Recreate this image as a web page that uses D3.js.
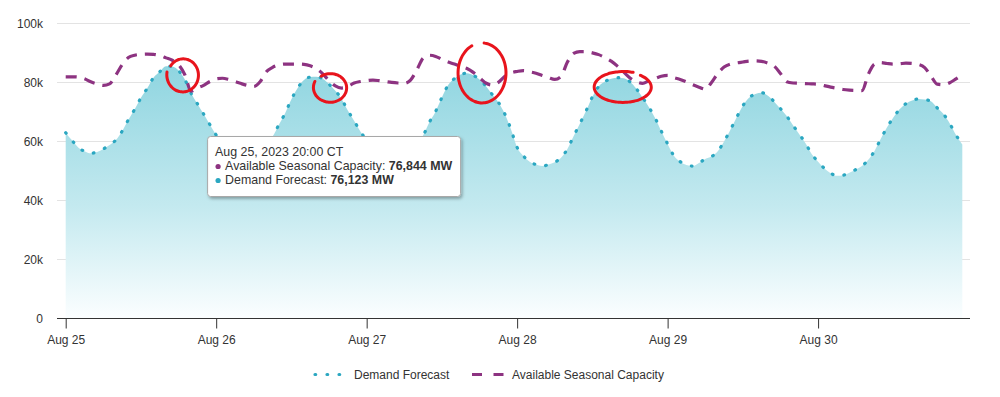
<!DOCTYPE html>
<html>
<head>
<meta charset="utf-8">
<title>Demand Forecast vs Available Seasonal Capacity</title>
<script src="https://cdnjs.cloudflare.com/ajax/libs/d3/7.8.5/d3.min.js"></script>
<style>
    body { margin: 0; background: #fff; }
    svg { font-family: "Liberation Sans", Arial, sans-serif; }
</style>
</head>
<body>
<div id="chart"></div>
<script>
// hourly values, Aug 25 2023 00:00 CT to Aug 30 23:00 CT (MW)
const startDay = [2023, 7, 25];
const dayTicks = ["Aug 25", "Aug 26", "Aug 27", "Aug 28", "Aug 29", "Aug 30"];
const yTicks = [0, 20000, 40000, 60000, 80000, 100000];

const demandForecast = [
    62800, 60200, 57800, 56500, 55800, 56300, 57300, 58600, 60300, 63300, 67200, 70700, 74600, 77800, 81400, 83400, 85300, 85200, 83800, 80800, 76123, 72600, 69100, 65500,
    62000, 59000, 56800, 55300, 54600, 54800, 55600, 57000, 59000, 61500, 65500, 69400, 74100, 77900, 80600, 81600, 81700, 81000, 79200, 77000, 74200, 70300, 66800, 63200,
    60200, 57600, 55600, 54300, 53800, 54200, 55200, 56800, 59200, 61800, 66300, 70000, 74700, 78900, 81100, 82500, 82900, 82200, 80800, 78600, 75800, 73100, 69300, 64000,
    57800, 54900, 53000, 52000, 51500, 52000, 52800, 54300, 57200, 61600, 65800, 70200, 74900, 78400, 80100, 81000, 81400, 81200, 80000, 77700, 74700, 71500, 67800, 63300,
    59000, 55000, 53000, 51900, 51500, 52500, 53900, 54700, 56500, 59800, 63700, 67900, 71900, 74600, 75900, 76300, 75300, 73300, 70900, 68400, 65300, 62300, 59200, 55500,
    53000, 50700, 49100, 48200, 48400, 49200, 50300, 51500, 53600, 56600, 60700, 64600, 67900, 70700, 72600, 73700, 74200, 74000, 73400, 71200, 69100, 65900, 62000, 58800
];

const seasonalCapacity = [
    81700, 81700, 81600, 81000, 80000, 79300, 78800, 79300, 82300, 85800, 88200, 89000, 89300, 89400, 89300, 88900, 88100, 87300, 85800, 82400, 76844, 77900, 78800, 80100,
    81000, 81200, 80800, 80100, 79400, 78800, 78400, 80000, 83400, 84900, 85700, 86000, 86000, 86000, 85900, 85400, 84400, 82700, 80400, 78600, 77900, 78400, 79600, 80100,
    80400, 80600, 80400, 80100, 79800, 79600, 79500, 80600, 84000, 88000, 89000, 88600, 87600, 86700, 86000, 85200, 84500, 83200, 81400, 79600, 78900, 79800, 81800, 83000,
    83500, 83800, 83400, 82900, 82100, 81400, 80800, 81800, 86600, 89600, 90200, 90200, 89800, 89200, 88200, 87000, 85300, 83300, 81300, 80000, 79500, 80300, 81100, 81900,
    82200, 81400, 80800, 80000, 79000, 78200, 77500, 79800, 82800, 85000, 86000, 86400, 86700, 87000, 87100, 86900, 86300, 85300, 82800, 80000, 79600, 79500, 79400, 79300,
    79200, 78700, 78200, 77800, 77400, 77200, 77100, 77000, 82500, 86000, 86500, 86200, 86000, 86100, 86300, 86200, 85900, 84800, 82000, 79200, 79000, 79700, 81000, 82300
];

// hand-drawn red circles: centre as hour index + MW
const circleHours = [18.7, 42.2, 66.4, 88.9];
const circleValues = [82300, 78000, 83000, 78200];

const tooltipHour = 20;

const w = 1000;
const h = 397;
const demandColor = "#2ba7c1";
const capacityColor = "#8d3381";

const hourDate = i => new Date(startDay[0], startDay[1], startDay[2], i);

const svg = d3.select("#chart").append("svg")
    .attr("width", w)
    .attr("height", h);

const defs = svg.append("defs");

const xScale = d3.scaleTime()
    .domain([hourDate(0), hourDate(demandForecast.length - 1)])
    .range([65.7, 962.3]);

const yScale = d3.scaleLinear()
    .domain([0, 100000])
    .range([318.3, 22.7]);

const plotLeft = 57, plotRight = 970;

// gridlines
svg.append("g").selectAll("line")
    .data(yTicks.filter(d => d > 0))
    .enter().append("line")
    .attr("x1", plotLeft).attr("x2", plotRight)
    .attr("y1", d => Math.round(yScale(d)) + 0.5)
    .attr("y2", d => Math.round(yScale(d)) + 0.5)
    .attr("stroke", "#e3e3e3");

// area gradient
const grad = defs.append("linearGradient")
    .attr("id", "demandFill")
    .attr("gradientUnits", "userSpaceOnUse")
    .attr("x1", 0).attr("x2", 0)
    .attr("y1", yScale(d3.max(demandForecast))).attr("y2", yScale(0));
grad.append("stop").attr("offset", 0).attr("stop-color", "#8fd5e0");
grad.append("stop").attr("offset", 0.55).attr("stop-color", "#c3e9ef");
grad.append("stop").attr("offset", 1).attr("stop-color", "#fbfeff");

const area = d3.area()
    .x((d, i) => xScale(hourDate(i)))
    .y0(yScale(0))
    .y1(d => yScale(d))
    .curve(d3.curveMonotoneX);

const line = d3.line()
    .x((d, i) => xScale(hourDate(i)))
    .y(d => yScale(d))
    .curve(d3.curveMonotoneX);

svg.append("path")
    .datum(demandForecast)
    .attr("d", area)
    .attr("fill", "url(#demandFill)");

svg.append("path")
    .datum(demandForecast)
    .attr("d", line)
    .attr("fill", "none")
    .attr("stroke", demandColor)
    .attr("stroke-width", 3.2)
    .attr("stroke-linecap", "round")
    .attr("stroke-dasharray", "0.7,11.3");

svg.append("path")
    .datum(seasonalCapacity)
    .attr("d", line)
    .attr("fill", "none")
    .attr("stroke", capacityColor)
    .attr("stroke-width", 3.2)
    .attr("stroke-dasharray", "11,8");

// x axis
const xAxis = d3.axisBottom(xScale)
    .tickValues(dayTicks.map((d, i) => hourDate(i * 24)))
    .tickFormat(d3.timeFormat("%b %d"))
    .tickSize(10)
    .tickPadding(7);

const gx = svg.append("g")
    .attr("transform", "translate(0,318.5)")
    .call(xAxis);
gx.select(".domain").remove();
gx.selectAll(".tick line").attr("stroke", "#333");
gx.selectAll("text").attr("fill", "#333").style("font-size", "12px").style("font-family", "Liberation Sans, Arial, sans-serif");
gx.append("line")
    .attr("x1", plotLeft).attr("x2", plotRight)
    .attr("stroke", "#333");

// y axis labels
const yAxis = d3.axisLeft(yScale)
    .tickValues(yTicks)
    .tickSize(0)
    .tickPadding(0)
    .tickFormat(d => d === 0 ? "0" : (d / 1000) + "k");
const gy = svg.append("g")
    .attr("transform", "translate(43,0.5)")
    .call(yAxis);
gy.select(".domain").remove();
gy.selectAll("text").attr("fill", "#333").style("font-size", "12px").style("font-family", "Liberation Sans, Arial, sans-serif");

// red annotation circles
const circleShapes = [
    {rx: 15, ry: 16, start: 215, sweep: 335, grow: 0.08},
    {rx: 16, ry: 14, start: 235, sweep: 330, grow: 0.06},
    {rx: 24, ry: 30, start: 275, sweep: 330, grow: 0.0},
    {rx: 28, ry: 15, start: 308, sweep: 342, grow: 0.05}
];
circleHours.forEach((hr, k) => {
    const s = circleShapes[k];
    const cx = xScale(new Date(hourDate(0).getTime() + hr * 3600000));
    const cy = yScale(circleValues[k]);
    const pts = d3.range(0, 61).map(i => {
        const t = i / 60;
        const th = (s.start + t * s.sweep) * Math.PI / 180;
        const r = 1 + s.grow * t;
        return [cx + s.rx * r * Math.cos(th), cy + s.ry * r * Math.sin(th)];
    });
    svg.append("path")
        .attr("d", d3.line().curve(d3.curveBasis)(pts))
        .attr("fill", "none")
        .attr("stroke", "#e8141c")
        .attr("stroke-width", 3)
        .attr("stroke-linecap", "round");
});

// legend
const legend = svg.append("g").attr("transform", "translate(0,374.5)");
legend.append("line")
    .attr("x1", 315).attr("x2", 341)
    .attr("stroke", demandColor).attr("stroke-width", 3.2)
    .attr("stroke-linecap", "round").attr("stroke-dasharray", "0.7,11.3");
legend.append("text").attr("x", 354).attr("y", 4.5)
    .attr("fill", "#333").style("font-size", "12px")
    .text("Demand Forecast");
legend.append("line")
    .attr("x1", 472).attr("x2", 504)
    .attr("stroke", capacityColor).attr("stroke-width", 3.2)
    .attr("stroke-dasharray", "10,11.5");
legend.append("text").attr("x", 512).attr("y", 4.5)
    .attr("fill", "#333").style("font-size", "12px")
    .text("Available Seasonal Capacity");

// tooltip
const shadow = defs.append("filter").attr("id", "shadow")
    .attr("x", "-10%").attr("y", "-10%").attr("width", "130%").attr("height", "140%");
shadow.append("feDropShadow")
    .attr("dx", 1.5).attr("dy", 2).attr("stdDeviation", 1.6)
    .attr("flood-color", "#000").attr("flood-opacity", 0.3);

const fmt = d3.format(",");
const tipX = xScale(hourDate(tooltipHour)) + 16;
const tipY = 136;
const tip = svg.append("g").attr("transform", `translate(${tipX},${tipY})`);
const tipRect = tip.append("rect")
    .attr("rx", 3)
    .attr("fill", "#fff")
    .attr("stroke", "#a8a8a8")
    .attr("stroke-width", 1)
    .attr("filter", "url(#shadow)");

const tipFont = "12.4px";
const tipText = tip.append("text").attr("fill", "#333").style("font-size", tipFont);
tipText.append("tspan").attr("x", 8).attr("y", 20)
    .text(d3.timeFormat("%b %d, %Y %H:%M")(hourDate(tooltipHour)) + " CT");

const rows = [
    {color: capacityColor, label: "Available Seasonal Capacity: ", value: seasonalCapacity[tooltipHour]},
    {color: demandColor, label: "Demand Forecast: ", value: demandForecast[tooltipHour]}
];
rows.forEach((r, i) => {
    const yy = 34 + i * 14;
    tip.append("circle").attr("cx", 11).attr("cy", yy - 3.5).attr("r", 2.6).attr("fill", r.color);
    const t = tip.append("text").attr("x", 18).attr("y", yy).attr("fill", "#333").style("font-size", tipFont);
    t.append("tspan").text(r.label);
    t.append("tspan").attr("font-weight", "bold").text(fmt(r.value) + " MW");
});

const bb = tip.node().getBBox();
tipRect.attr("x", 0.5).attr("y", 0.5)
    .attr("width", Math.round(bb.width + 8 + 8))
    .attr("height", 60);
</script>
</body>
</html>
